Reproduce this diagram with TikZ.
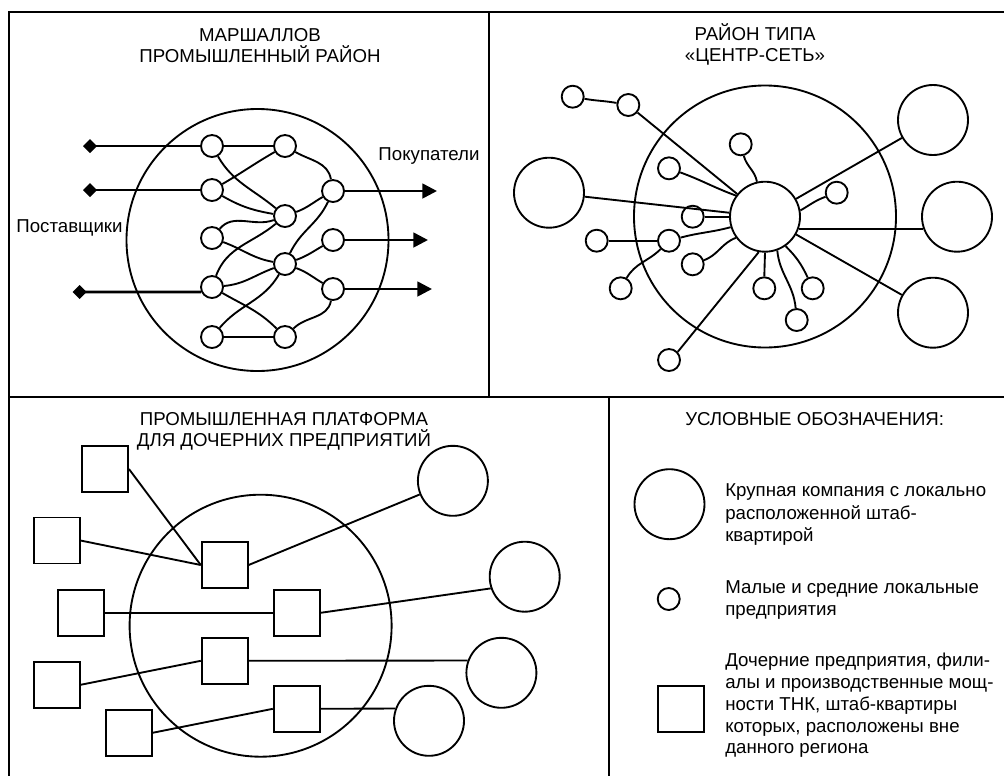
\documentclass[tikz,border=0pt]{standalone}
\usepackage{fontspec}
\setmainfont{Liberation Sans}
\usetikzlibrary{arrows.meta}
\tikzset{
  frm/.style={line width=1.6pt},
  ln/.style={line width=1.4pt},
  sc/.style={circle,draw,line width=1.4pt,minimum size=16.5pt,inner sep=0pt},
  lc/.style={circle,draw,line width=1.4pt,minimum size=52.5pt,inner sep=0pt},
  rc/.style={circle,draw,line width=1.4pt,minimum size=196.5pt,inner sep=0pt},
  sq/.style={rectangle,draw,line width=1.4pt,minimum size=34.5pt,inner sep=0pt},
  lbl/.style={font=\fontsize{14pt}{16.5pt}\selectfont,inner sep=0pt,anchor=base},
  lgd/.style={font=\fontsize{14pt}{16.5pt}\selectfont,inner sep=0pt,anchor=base west},
  inarr/.style={line width=2pt,{Diamond[length=10.5pt,width=10.5pt]}-},
  outarr/.style={line width=2pt,-{Triangle[length=11pt,width=11pt]}},
}
\begin{document}
\begin{tikzpicture}[x=0.75pt,y=0.75pt]
\useasboundingbox (0,0) rectangle (1004,-776);
% frame
\draw[frm] (1004,-12) -- (9,-12) -- (9,-776);
\draw[frm] (489,-12) -- (489,-396.7);
\draw[frm] (9,-396.7) -- (1004,-396.7);
\draw[frm] (609,-396.7) -- (609,-776);

% ---------- panel 1: Marshallian district ----------
\node[lbl] (t1a) at (260,-41.7) {МАРШАЛЛОВ};
\node[lbl] (t1b) at (260,-62.7) {ПРОМЫШЛЕННЫЙ РАЙОН};
\node[rc] (L) at (257.5,-240) {};
\node[sc] (A1) at (212,-146) {};
\node[sc] (A2) at (212,-190) {};
\node[sc] (A3) at (212,-238) {};
\node[sc] (A4) at (212,-287) {};
\node[sc] (A5) at (212,-337) {};
\node[sc] (B1) at (285,-146) {};
\node[sc] (B2) at (285,-216) {};
\node[sc] (B3) at (285,-264) {};
\node[sc] (B4) at (285,-337) {};
\node[sc] (C1) at (333,-191) {};
\node[sc] (C2) at (333,-240) {};
\node[sc] (C3) at (333,-289) {};
\node[lbl] (sup) at (69.5,-232) {Поставщики};
\node[lbl] (buy) at (429,-160) {Покупатели};
\coordinate (p1) at (83,-146);
\coordinate (p2) at (83,-190);
\coordinate (p3) at (72.7,-292);
\coordinate (q1) at (437,-191);
\coordinate (q2) at (428,-240);
\coordinate (q3) at (432,-289);
\draw[inarr] (p1) -- (A1.west);
\draw[inarr] (p2) -- (A2.west);
\draw[inarr] (p3) -- (A4.205);
\draw[outarr] (C1.east) -- (q1);
\draw[outarr] (C2.east) -- (q2);
\draw[outarr] (C3.east) -- (q3);
\draw[ln] (A1) -- (B1);
\draw[ln] (A5) -- (B4);
\draw[ln] (A1) to[out=-60,in=140] (B2);
\draw[ln] (A2) to[out=30,in=-150] (B1);
\draw[ln] (B1) to[out=-30,in=100] (C1);
\draw[ln] (A2) to[out=-30,in=170] (B2);
\draw[ln] (B2) to[out=20,in=-150] (C1);
\draw[ln] (A3) to[out=50,in=-160] (B2);
\draw[ln] (A4) to[out=70,in=-140] (B2);
\draw[ln] (A3) to[out=-20,in=170] (B3);
\draw[ln] (C1) to[out=-115,in=65] (B3);
\draw[ln] (B3) to[out=20,in=-150] (C2);
\draw[ln] (A4) to[out=5,in=-160] (B3);
\draw[ln] (A4) to[out=-30,in=135] (B4);
\draw[ln] (A5) to[out=50,in=-120] (B3);
\draw[ln] (B4) to[out=45,in=-100] (C3);
\draw[ln] (B3) to[out=-20,in=150] (C3);

% ---------- panel 2: hub-and-spoke ----------
\node[lbl] (t2a) at (755,-40) {РАЙОН ТИПА};
\node[lbl] (t2b) at (755,-61) {«ЦЕНТР-СЕТЬ»};
\node[rc] (R) at (765,-216.5) {};
\node[lc] (Z) at (765,-216.7) {};
\node[lc] (BL) at (549,-192.7) {};
\node[lc] (BT) at (933,-120) {};
\node[lc] (BR) at (957,-216.7) {};
\node[lc] (BB) at (933,-312.7) {};
\node[sc] (s1) at (572.7,-96.7) {};
\node[sc] (s2) at (628.3,-105) {};
\node[sc] (s3) at (740.7,-144.3) {};
\node[sc] (s4) at (669,-168.3) {};
\node[sc] (s5) at (836.7,-192.7) {};
\node[sc] (s6) at (692.7,-216.7) {};
\node[sc] (s7) at (596.7,-240.7) {};
\node[sc] (s8) at (669,-240.7) {};
\node[sc] (s9) at (692.7,-264.3) {};
\node[sc] (s10) at (620.7,-288.3) {};
\node[sc] (s11) at (764.3,-288.3) {};
\node[sc] (s12) at (812.7,-288.3) {};
\node[sc] (s13) at (796.7,-320) {};
\node[sc] (s14) at (669,-360) {};
\draw[ln] (s1) to[out=-10,in=170] (s2);
\draw[ln] (s2) -- (Z);
\draw[ln] (BL) -- (Z);
\draw[ln] (BT) -- (Z);
\draw[ln] (Z.-20) -- (BR.200);
\draw[ln] (BB) -- (Z);
\draw[ln] (s3) to[out=-75,in=100] (Z.103);
\draw[ln] (s4) to[out=-20,in=160] (Z.144);
\draw[ln] (s5) to[out=200,in=30] (Z.10);
\draw[ln] (s6) -- (Z);
\draw[ln] (s7) -- (s8);
\draw[ln] (s8) to[out=15,in=195] (Z.197);
\draw[ln] (s8) to[out=-135,in=60] (s10);
\draw[ln] (s9) to[out=20,in=200] (Z.216);
\draw[ln] (s14.43) -- (Z.-100);
\draw[ln] (s11.north) -- (Z.south);
\draw[ln] (s13) to[out=95,in=-85] (Z.-70);
\draw[ln] (s12) to[out=115,in=-45] (Z.-55);

% ---------- panel 3: satellite platform ----------
\node[lbl] (t3a) at (284,-425) {ПРОМЫШЛЕННАЯ ПЛАТФОРМА};
\node[lbl] (t3b) at (284,-446) {ДЛЯ ДОЧЕРНИХ ПРЕДПРИЯТИЙ};
\node[rc] (P) at (260.6,-625.7) {};
\node[sq] (Q1) at (105,-469) {};
\node[sq] (Q2) at (56.6,-540.5) {};
\node[sq] (Q3) at (224.7,-565) {};
\node[sq] (Q4) at (81,-612.8) {};
\node[sq] (Q5) at (296.7,-612.8) {};
\node[sq] (Q6) at (224.7,-660.8) {};
\node[sq] (Q7) at (56.6,-684.8) {};
\node[sq] (Q8) at (296.7,-708.8) {};
\node[sq] (Q9) at (128.6,-732.8) {};
\node[lc] (K1) at (452.9,-480.8) {};
\node[lc] (K2) at (524.7,-576.7) {};
\node[lc] (K3) at (501.4,-672.8) {};
\node[lc] (K4) at (429,-720.8) {};
\draw[ln] (Q1.east) -- (Q3.west);
\draw[ln] (Q2.east) -- (Q3.west);
\draw[ln] (Q3.east) -- (K1);
\draw[ln] (Q4.east) -- (Q5.west);
\draw[ln] (Q5.east) -- (K2.199);
\draw[ln] (Q7.east) -- (Q6.west);
\draw[ln] (Q6.east) -- (K3.160);
\draw[ln] (Q9.east) -- (Q8.west);
\draw[ln] (Q8.east) -- (K4.160);

% ---------- legend ----------
\node[lbl] (t4) at (814.7,-425) {УСЛОВНЫЕ ОБОЗНАЧЕНИЯ:};
\node[lc] (g1) at (669.5,-504.2) {};
\node[sc] (g2) at (668.7,-599) {};
\node[sq] (g3) at (680.8,-709.2) {};
\node[lgd] (d1a) at (725,-496.7) {Крупная компания с локально};
\node[lgd] (d1b) at (725,-519) {расположенной штаб-};
\node[lgd] (d1c) at (725,-541) {квартирой};
\node[lgd] (d2a) at (725,-593.3) {Малые и средние локальные};
\node[lgd] (d2b) at (725,-615.5) {предприятия};
\node[lgd] (d3a) at (725,-666.7) {Дочерние предприятия, фили-};
\node[lgd] (d3b) at (725,-688.5) {алы и производственные мощ-};
\node[lgd] (d3c) at (725,-710.3) {ности ТНК, штаб-квартиры};
\node[lgd] (d3d) at (725,-732) {которых, расположены вне};
\node[lgd] (d3e) at (725,-753.9) {данного региона};
\end{tikzpicture}
\end{document}
